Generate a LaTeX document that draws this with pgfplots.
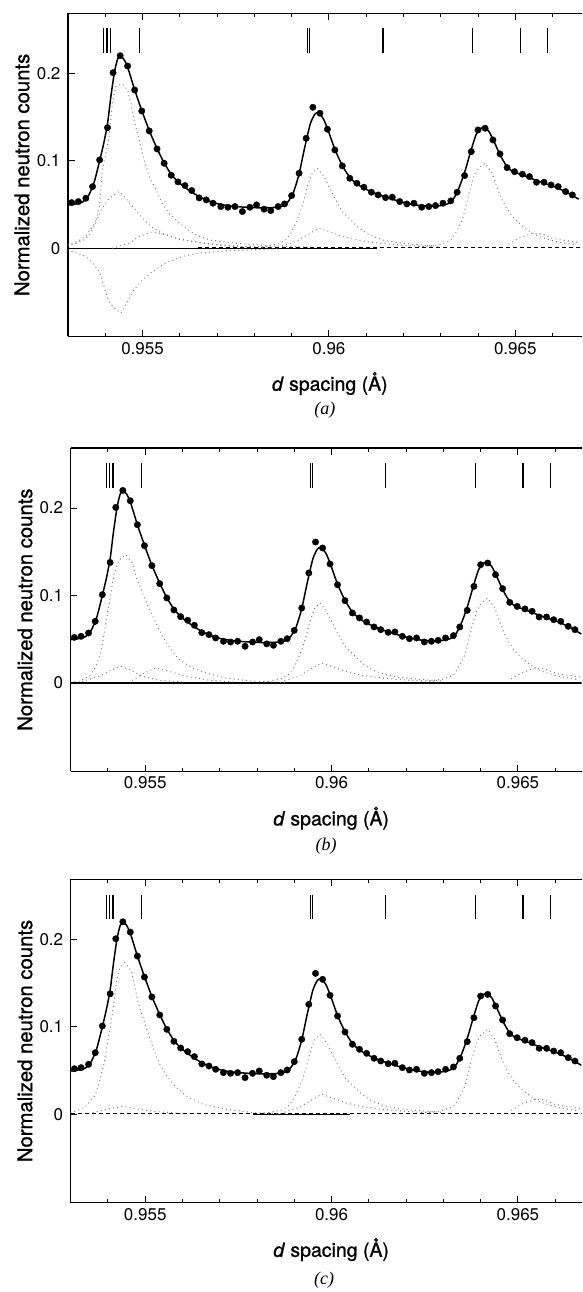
\documentclass[border=0pt]{standalone}
\usepackage{fontspec}
\setmainfont{TeX Gyre Heros}
\newfontfamily\labfont{TeX Gyre Heros}[FakeBold=1]
\newfontfamily\timesfont{Liberation Serif}
\usepackage{pgfplots}
\usepackage{pgfplotstable}
\pgfplotsset{compat=1.18}

% observed points (same in all three panels)
\pgfplotstableread{
d y
0.95310 0.0521
0.95328 0.0533
0.95348 0.0571
0.95366 0.0704
0.95385 0.1009
0.95406 0.1378
0.95421 0.2007
0.95440 0.2201
0.95460 0.2083
0.95479 0.1809
0.95498 0.1569
0.95518 0.1341
0.95539 0.1135
0.95558 0.0971
0.95577 0.0834
0.95595 0.0758
0.95614 0.0716
0.95632 0.0659
0.95652 0.0575
0.95671 0.0552
0.95689 0.0514
0.95710 0.0476
0.95729 0.0468
0.95748 0.0476
0.95768 0.0419
0.95788 0.0468
0.95806 0.0495
0.95826 0.0446
0.95844 0.0430
0.95864 0.0476
0.95881 0.0506
0.95900 0.0601
0.95920 0.0857
0.95939 0.1257
0.95957 0.1611
0.95976 0.1543
0.95996 0.1360
0.96016 0.1123
0.96036 0.0941
0.96056 0.0800
0.96075 0.0743
0.96094 0.0697
0.96114 0.0640
0.96132 0.0609
0.96152 0.0578
0.96170 0.0583
0.96190 0.0533
0.96209 0.0506
0.96228 0.0514
0.96249 0.0468
0.96268 0.0476
0.96286 0.0487
0.96306 0.0514
0.96327 0.0541
0.96344 0.0640
0.96364 0.0830
0.96382 0.1104
0.96400 0.1352
0.96419 0.1371
0.96440 0.1238
0.96459 0.1078
0.96478 0.0921
0.96498 0.0875
0.96519 0.0846
0.96538 0.0819
0.96557 0.0754
0.96577 0.0754
0.96596 0.0723
0.96615 0.0704
0.96635 0.0647
0.96653 0.0609
}\obsdata

% fitted profile
\pgfplotstableread{
d y
0.95300 0.0495
0.95320 0.0505
0.95340 0.0530
0.95355 0.0600
0.95370 0.0750
0.95385 0.1000
0.95396 0.1200
0.95406 0.1420
0.95415 0.1730
0.95425 0.2020
0.95433 0.2160
0.95440 0.2200
0.95450 0.2160
0.95460 0.2070
0.95479 0.1810
0.95498 0.1575
0.95518 0.1345
0.95539 0.1140
0.95558 0.0975
0.95577 0.0845
0.95595 0.0760
0.95614 0.0695
0.95632 0.0640
0.95652 0.0590
0.95671 0.0550
0.95700 0.0510
0.95730 0.0485
0.95770 0.0470
0.95810 0.0462
0.95850 0.0465
0.95875 0.0480
0.95890 0.0530
0.95905 0.0640
0.95920 0.0850
0.95935 0.1150
0.95950 0.1420
0.95962 0.1530
0.95972 0.1550
0.95985 0.1480
0.95996 0.1370
0.96016 0.1130
0.96036 0.0945
0.96056 0.0810
0.96075 0.0735
0.96094 0.0685
0.96114 0.0645
0.96132 0.0612
0.96152 0.0585
0.96170 0.0560
0.96190 0.0535
0.96210 0.0512
0.96240 0.0490
0.96270 0.0480
0.96300 0.0487
0.96320 0.0510
0.96335 0.0570
0.96350 0.0700
0.96365 0.0880
0.96380 0.1100
0.96395 0.1300
0.96408 0.1370
0.96418 0.1380
0.96430 0.1330
0.96445 0.1200
0.96460 0.1060
0.96475 0.0950
0.96490 0.0885
0.96510 0.0850
0.96530 0.0820
0.96550 0.0785
0.96570 0.0755
0.96590 0.0725
0.96610 0.0695
0.96630 0.0655
0.96650 0.0610
0.96670 0.0560
}\fitcurve

% reflection markers
\pgfplotstableread{
d y
0.95396 0.2371
0.95405 0.2371
0.95414 0.2371
0.95491 0.2371
0.95943 0.2371
0.95948 0.2371
0.96145 0.2371
0.96386 0.2371
0.96514 0.2371
0.96587 0.2371
}\refl

% ---- panel (a) components of the first peak
\pgfplotstableread{
d y
0.95300 0.0030
0.95320 0.0050
0.95343 0.0095
0.95361 0.0171
0.95375 0.0290
0.95385 0.0500
0.95392 0.0895
0.95402 0.1086
0.95410 0.1276
0.95419 0.1657
0.95428 0.1848
0.95445 0.1880
0.95460 0.1809
0.95469 0.1657
0.95477 0.1466
0.95491 0.1238
0.95504 0.1009
0.95518 0.0819
0.95536 0.0667
0.95553 0.0514
0.95571 0.0400
0.95594 0.0305
0.95616 0.0229
0.95643 0.0152
0.95679 0.0095
0.95746 0.0057
0.95850 0.0025
0.95950 0.0010
}\aPa

\pgfplotstableread{
d y
0.95300 0.0040
0.95310 0.0049
0.95330 0.0087
0.95348 0.0141
0.95366 0.0247
0.95382 0.0362
0.95392 0.0457
0.95410 0.0571
0.95437 0.0648
0.95455 0.0571
0.95477 0.0457
0.95500 0.0343
0.95522 0.0247
0.95553 0.0171
0.95589 0.0114
0.95634 0.0076
0.95679 0.0049
0.95750 0.0025
0.95850 0.0010
}\aPb

\pgfplotstableread{
d y
0.95420 0.0000
0.95464 0.0057
0.95491 0.0133
0.95527 0.0190
0.95562 0.0152
0.95598 0.0103
0.95652 0.0065
0.95723 0.0026
0.95800 0.0010
}\aPc

\pgfplotstableread{
d y
0.95300 -0.0025
0.95312 -0.0038
0.95348 -0.0095
0.95370 -0.0191
0.95384 -0.0267
0.95394 -0.0400
0.95402 -0.0514
0.95410 -0.0610
0.95424 -0.0686
0.95442 -0.0743
0.95460 -0.0610
0.95477 -0.0476
0.95500 -0.0362
0.95527 -0.0267
0.95562 -0.0171
0.95607 -0.0095
0.95652 -0.0057
0.95723 -0.0031
0.95795 -0.0019
0.95860 -0.0005
}\aNeg

% second and third peaks (shared)
\pgfplotstableread{
d y
0.95821 0.0011
0.95866 0.0049
0.95884 0.0095
0.95898 0.0171
0.95911 0.0286
0.95922 0.0400
0.95933 0.0552
0.95942 0.0705
0.95955 0.0857
0.95969 0.0914
0.95987 0.0819
0.96000 0.0705
0.96018 0.0552
0.96036 0.0419
0.96058 0.0324
0.96081 0.0229
0.96108 0.0152
0.96143 0.0095
0.96179 0.0065
0.96215 0.0049
0.96300 0.0020
}\Qa

\pgfplotstableread{
d y
0.95875 0.0026
0.95911 0.0076
0.95938 0.0141
0.95973 0.0229
0.96005 0.0183
0.96036 0.0133
0.96081 0.0087
0.96134 0.0057
0.96197 0.0034
0.96280 0.0015
}\Qb

\pgfplotstableread{
d y
0.96242 0.0019
0.96295 0.0038
0.96327 0.0087
0.96344 0.0202
0.96358 0.0324
0.96367 0.0476
0.96376 0.0629
0.96389 0.0819
0.96402 0.0914
0.96419 0.0971
0.96438 0.0857
0.96447 0.0743
0.96461 0.0590
0.96474 0.0476
0.96492 0.0362
0.96510 0.0286
0.96532 0.0210
0.96563 0.0133
0.96608 0.0076
0.96660 0.0040
}\Ra

\pgfplotstableread{
d y
0.96483 0.0049
0.96510 0.0114
0.96545 0.0171
0.96572 0.0163
0.96599 0.0114
0.96635 0.0087
0.96665 0.0068
}\Rb

% ---- panel (b) components of the first peak
\pgfplotstableread{
d y
0.95300 0.0008
0.95323 0.0019
0.95350 0.0076
0.95368 0.0190
0.95381 0.0343
0.95390 0.0571
0.95399 0.0800
0.95408 0.1029
0.95417 0.1257
0.95430 0.1409
0.95448 0.1466
0.95466 0.1371
0.95475 0.1219
0.95493 0.1029
0.95511 0.0838
0.95529 0.0686
0.95546 0.0533
0.95569 0.0381
0.95591 0.0267
0.95627 0.0171
0.95663 0.0114
0.95716 0.0057
0.95788 0.0019
0.95880 0.0005
}\bPa

\pgfplotstableread{
d y
0.95332 0.0019
0.95377 0.0076
0.95408 0.0145
0.95435 0.0190
0.95462 0.0145
0.95493 0.0076
0.95538 0.0030
0.95600 0.0010
}\bPb

\pgfplotstableread{
d y
0.95466 0.0030
0.95497 0.0114
0.95529 0.0171
0.95564 0.0133
0.95609 0.0076
0.95672 0.0030
0.95740 0.0010
}\bPc

% ---- panel (c) components of the first peak
\pgfplotstableread{
d y
0.95300 0.0020
0.95316 0.0038
0.95342 0.0095
0.95365 0.0210
0.95378 0.0381
0.95391 0.0610
0.95400 0.0838
0.95409 0.1067
0.95418 0.1333
0.95423 0.1524
0.95432 0.1676
0.95445 0.1734
0.95463 0.1638
0.95472 0.1448
0.95485 0.1219
0.95503 0.0990
0.95521 0.0762
0.95539 0.0571
0.95561 0.0419
0.95584 0.0305
0.95610 0.0210
0.95655 0.0114
0.95718 0.0057
0.95789 0.0019
0.95880 0.0005
}\cPa

\pgfplotstableread{
d y
0.95360 0.0020
0.95400 0.0060
0.95440 0.0090
0.95480 0.0060
0.95530 0.0030
0.95600 0.0010
}\cPb

\pgfplotsset{
  comp/.style={black!55, line width=1.3pt, line cap=round, dash pattern=on 0pt off 4.2pt},
  panel/.style={
    scale only axis, height=323.4pt, anchor=south west,
    xmin=0.953, ymin=-0.101, ymax=0.2686,
    axis x line*=box, axis y line*=left,
    every non boxed y axis/.append style={y axis line style={-}},
    xtick={0.955,0.96,0.965},
    minor xtick={0.954,0.956,0.957,0.958,0.959,0.961,0.962,0.963,0.964,0.966},
    ytick={0,0.1,0.2}, ytick pos=left,
    scaled ticks=false,
    /pgf/number format/fixed, /pgf/number format/precision=3,
    /pgf/number format/assume math mode=true,
    tick label style={font=\fontsize{17}{20}\selectfont},
    major tick length=6.7pt, minor tick length=3.5pt,
    every tick/.style={black, line width=1pt},
    axis line style={line width=1.3pt},
    xticklabel style={yshift=-2pt},
    yticklabel style={xshift=-4pt},
    xlabel={\textit{d} spacing (Å)},
    ylabel={Normalized neutron counts},
    every axis x label/.style={at={(axis description cs:0.5,0)}, anchor=center,
      xshift=5pt, yshift=-47pt, font=\labfont\fontsize{19.5}{23}\selectfont},
    every axis y label/.style={at={(axis description cs:-0.0895,0.5)}, anchor=center,
      rotate=90, font=\labfont\fontsize{20.3}{24}\selectfont},
  },
  fitline/.style={black, line width=1.5pt, smooth, tension=0.4},
  obs/.style={only marks, mark=*, mark size=3.2pt, black},
  bars/.style={only marks, mark=|, mark size=12.4pt, mark options={line width=1.3pt}, black},
}

\begin{document}
\begin{tikzpicture}
\path (0pt,0pt) (582pt,-1292pt);

% ---------------- (a)
\begin{axis}[panel, name=pa, at={(68pt,-336.7pt)}, width=514pt, xmax=0.96678]
\addplot[black, line width=1.3pt] coordinates {(0.953,0) (0.9613,0)};
\addplot[black, line width=1.2pt, dash pattern=on 4pt off 3pt] coordinates {(0.9565,0.0008) (0.96678,0.0008)};
\addplot[comp] table {\aPa};
\addplot[comp] table {\aPb};
\addplot[comp] table {\aPc};
\addplot[comp] table {\aNeg};
\addplot[comp] table {\Qa};
\addplot[comp] table {\Qb};
\addplot[comp] table {\Ra};
\addplot[comp] table {\Rb};
\addplot[fitline] table {\fitcurve};
\addplot[obs] table {\obsdata};
\addplot[bars] table {\refl};
\end{axis}
\node[font=\timesfont\itshape\fontsize{18}{21}\selectfont, yshift=-74pt] at (pa.south) {(a)};

% ---------------- (b)
\begin{axis}[panel, name=pb, at={(70.7pt,-771.7pt)}, width=511.3pt, xmax=0.96671]
\addplot[black, line width=1.3pt] coordinates {(0.953,0) (0.96671,0)};
\addplot[comp] table {\bPa};
\addplot[comp] table {\bPb};
\addplot[comp] table {\bPc};
\addplot[comp] table {\Qa};
\addplot[comp] table {\Qb};
\addplot[comp] table {\Ra};
\addplot[comp] table {\Rb};
\addplot[fitline] table {\fitcurve};
\addplot[obs] table {\obsdata};
\addplot[bars] table {\refl};
\end{axis}
\node[font=\timesfont\itshape\fontsize{18}{21}\selectfont, yshift=-75pt] at (pb.south) {(b)};

% ---------------- (c)
\begin{axis}[panel, name=pc, at={(70.7pt,-1203.3pt)}, width=511.3pt, xmax=0.96671]
\addplot[black, line width=1.2pt, dash pattern=on 4pt off 3pt] coordinates {(0.953,0.0008) (0.96671,0.0008)};
\addplot[black, line width=1.3pt] coordinates {(0.9579,0) (0.9605,0)};
\addplot[comp] table {\cPa};
\addplot[comp] table {\cPb};
\addplot[comp] table {\Qa};
\addplot[comp] table {\Qb};
\addplot[comp] table {\Ra};
\addplot[comp] table {\Rb};
\addplot[fitline] table {\fitcurve};
\addplot[obs] table {\obsdata};
\addplot[bars] table {\refl};
\end{axis}
\node[font=\timesfont\itshape\fontsize{18}{21}\selectfont, xshift=-2pt, yshift=-78pt] at (pc.south) {(c)};
\end{tikzpicture}
\end{document}
